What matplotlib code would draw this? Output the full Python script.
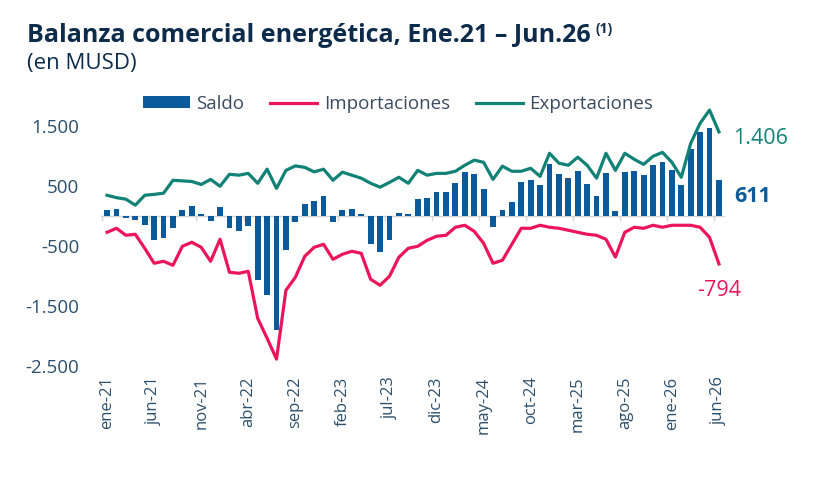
import matplotlib
matplotlib.use("Agg")
import matplotlib.pyplot as plt
import numpy as np
from matplotlib.ticker import FuncFormatter

plt.rcParams["font.family"] = ["Open Sans", "DejaVu Sans"]

# monthly data, ene-21 .. jun-26 (MUSD)
months = ["ene", "feb", "mar", "abr", "may", "jun", "jul", "ago", "sep", "oct", "nov", "dic"]
labels = [f"{m}-{y}" for y in range(21, 27) for m in months][:66]

saldo = [
    100, 120, -30, -60, -150, -400, -360, -200, 110, 170, 30, -80,
    150, -200, -240, -160, -1070, -1310, -1890, -570, -100, 200, 260, 330,
    -90, 110, 120, 40, -460, -600, -390, 60, 40, 290, 300, 400,
    410, 550, 740, 700, 450, -180, 100, 230, 575, 600, 515, 875,
    700, 640, 760, 540, 330, 720, 80, 740, 760, 680, 850, 900,
    775, 525, 1120, 1410, 1470, 611,
]
importaciones = [
    -267, -200, -317, -300, -533, -783, -750, -817, -500, -433, -517, -750,
    -383, -933, -950, -917, -1700, -2033, -2380, -1233, -1017, -667, -517, -467,
    -717, -633, -583, -617, -1050, -1150, -1000, -683, -533, -500, -400, -333,
    -317, -183, -150, -250, -450, -783, -733, -467, -200, -200, -150, -183,
    -200, -233, -267, -300, -317, -383, -680, -267, -183, -200, -150, -183,
    -150, -150, -150, -183, -350, -794,
]
exportaciones = [
    350, 310, 285, 185, 350, 365, 385, 600, 590, 580, 530, 615,
    500, 700, 685, 715, 550, 785, 465, 765, 840, 815, 740, 785,
    600, 735, 685, 635, 550, 485, 565, 650, 550, 765, 685, 715,
    715, 750, 850, 935, 900, 615, 835, 750, 750, 800, 665, 1050,
    885, 850, 985, 850, 635, 1050, 765, 1050, 950, 865, 1000, 1065,
    900, 650, 1215, 1550, 1770, 1406,
]

c_bar = "#0b5a9b"
c_imp = "#ec1559"
c_exp = "#118275"
c_txt = "#0d2b4b"
c_tick = "#2d4f6c"

fig = plt.figure(figsize=(8.32, 4.84), dpi=100)
ax = fig.add_axes([0.1219, 0.2308, 0.749, 0.5703])

x = np.arange(len(labels))
h_bar = ax.bar(x, saldo, width=0.62, color=c_bar, label="Saldo", zorder=2)
h_imp, = ax.plot(x, importaciones, color=c_imp, lw=2.3, label="Importaciones", zorder=3)
h_exp, = ax.plot(x, exportaciones, color=c_exp, lw=2.3, label="Exportaciones", zorder=3)

# zero line with small ticks every 5 months
ax.axhline(0, color="#d0d4d8", lw=1.0, zorder=1)
for b in np.arange(-0.5, len(labels), 5):
    ax.plot([b, b], [0, -70], color="#d0d4d8", lw=1.0, zorder=1)

ax.set_xlim(-0.6, 65.6)
ax.set_ylim(-2600, 2000)
for s in ax.spines.values():
    s.set_visible(False)

ax.set_yticks([1500, 500, -500, -1500, -2500])
ax.yaxis.set_major_formatter(FuncFormatter(lambda v, p: f"{int(v):,}".replace(",", ".")))
ax.tick_params(axis="y", length=0, pad=16, labelsize=13.5, labelcolor=c_tick)

ax.set_xticks(x[::5])
ax.set_xticklabels(labels[::5], rotation=90)
ax.tick_params(axis="x", length=0, pad=3, labelsize=12, labelcolor=c_tick)

leg = ax.legend([h_bar, h_imp, h_exp], ["Saldo", "Importaciones", "Exportaciones"],
                loc="center", bbox_to_anchor=(0.476, 0.972), ncol=3, frameon=False,
                fontsize=13.5, handlelength=2.5, handleheight=0.6, columnspacing=1.4,
                handletextpad=0.35, borderaxespad=0)
for t in leg.get_texts():
    t.set_color("#3a4b5e")

# end labels
ax.annotate("1.406", xy=(65, exportaciones[-1]), xytext=(10, -5), textcoords="offset points",
            color=c_exp, fontsize=15.5, va="center")
ax.annotate(f"{saldo[-1]}", xy=(65, saldo[-1]), xytext=(11, -12), textcoords="offset points",
            color=c_bar, fontsize=15.5, fontweight="bold", va="center")
ax.annotate(f"{importaciones[-1]}", xy=(65, importaciones[-1]), xytext=(-16, -19), textcoords="offset points",
            color=c_imp, fontsize=15.5, va="center")

title = fig.text(27 / 832, 1 - 35 / 484, "Balanza comercial energética, Ene.21 – Jun.26", fontsize=18,
                 fontweight="bold", color=c_txt, va="center")
fig.canvas.draw()
bb = title.get_window_extent()
fig.text((bb.x1 + 5) / 832, 1 - 29 / 484, "(1)", fontsize=10, fontweight="bold", color=c_txt, va="center")
fig.text(27 / 832, 1 - 63 / 484, "(en MUSD)", fontsize=16, color=c_txt, va="center")

fig.savefig("out.png", dpi=100)
